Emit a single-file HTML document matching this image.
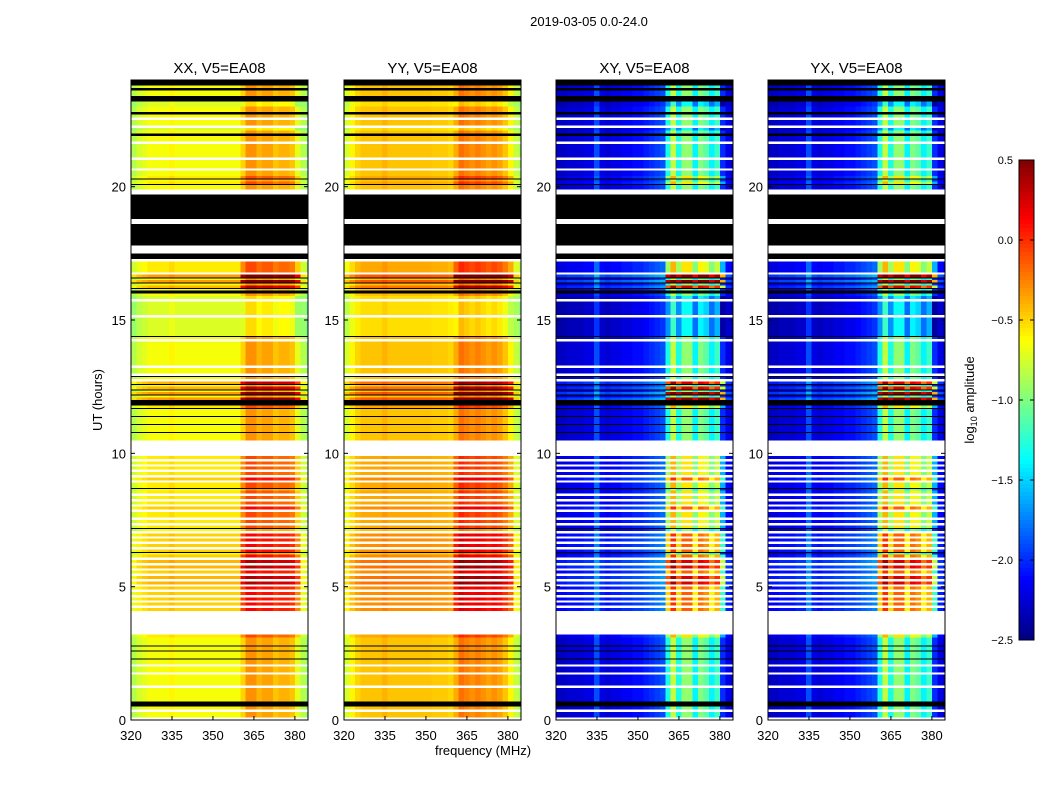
<!DOCTYPE html>
<html><head><meta charset="utf-8">
<style>
body{margin:0;background:#fff;}
svg{display:block;font-family:"Liberation Sans","DejaVu Sans",sans-serif;}
</style></head>
<body>
<svg id="fig" width="1050" height="800" viewBox="0 0 1050 800">
<rect width="1050" height="800" fill="#fff"/>
<text x="589" y="26" font-size="13" text-anchor="middle">2019-03-05 0.0-24.0</text>
<text x="483" y="755" font-size="13" text-anchor="middle">frequency (MHz)</text>
<text transform="translate(102,400) rotate(-90)" font-size="13" text-anchor="middle">UT (hours)</text>
<g id="panels"></g>
<g id="cbar"></g>
<text transform="translate(974,400) rotate(-90)" font-size="13" text-anchor="middle">log<tspan font-size="9" dy="3">10</tspan><tspan dy="-3"> amplitude</tspan></text>
</svg>
<script>
// ---- data ----
const panelTitles = ["XX, V5=EA08","YY, V5=EA08","XY, V5=EA08","YX, V5=EA08"];
const freqBins = [321,323,325,327,329,331,333,335,337,339,341,343,345,347,349,351,353,355,357,359,361,363,365,367,369,371,373,375,377,379,381,383,385];
const colXX = [-0.85,-0.75,-0.7,-0.65,-0.65,-0.65,-0.65,-0.6,-0.65,-0.65,-0.65,-0.65,-0.65,-0.65,-0.65,-0.65,-0.65,-0.65,-0.65,-0.65,-0.5,-0.3,-0.3,-0.4,-0.35,-0.35,-0.45,-0.4,-0.4,-0.45,-0.7,-0.85,-0.95];
const colYY = [-0.75,-0.6,-0.5,-0.45,-0.45,-0.45,-0.45,-0.4,-0.45,-0.45,-0.45,-0.45,-0.45,-0.45,-0.45,-0.45,-0.47,-0.47,-0.47,-0.5,-0.38,-0.2,-0.25,-0.3,-0.25,-0.3,-0.35,-0.3,-0.35,-0.45,-0.6,-0.8,-0.9];
const colXY = [-2.3,-2.3,-2.25,-2.25,-2.25,-2.2,-2.2,-1.9,-2.2,-2.25,-2.2,-2.2,-2.15,-2.15,-2.1,-2.1,-2.05,-2.0,-1.95,-1.9,-1.3,-0.8,-1.3,-0.95,-0.95,-1.4,-1.0,-1.1,-1.4,-1.2,-2.0,-2.2,-2.3];
const colYX = [-2.3,-2.3,-2.25,-2.25,-2.25,-2.2,-2.2,-1.9,-2.2,-2.25,-2.2,-2.2,-2.15,-2.15,-2.1,-2.1,-2.05,-2.0,-1.95,-1.9,-1.3,-0.8,-1.3,-0.95,-0.95,-1.4,-1.0,-1.1,-1.4,-1.2,-2.0,-2.2,-2.3];
// one char per 0.1 h, from 24 h down to 0 h: k=flagged(black), w=no data(white), l=data with thin flagged line, digit=row level
const rowLevels = ("kk"+"4k44"+"kk"+"3344"+"k"+"4w44w34"+"k"+"44w44444w444w44"+"5l5l4"+"ww"+"kkkkkkkkk"+"ww"+"kkkkkkkk"+"www"+"kk"+"w"+"5555"+"w"+"8l8l7l"+"k4"+"3w33333w3333333"+"lw"+"444444444w44"+"wlw"+"7l7l"+"8l8"+"kk5l44l"+"44l44l44"+"wwwwww"+"5w5w5w5w6w55l5w5w5w6w55w5w5l"+"w6w6w6w6l"+"6w7w7w6w7w7w6w6w6w6w6"+"wwwwwwwww"+"5444l4l44l4w44w4444w44444kk4w44w").split("");
const xTicks = [320,335,350,365,380];
const yTicks = [0,5,10,15,20];
const cbTicks = [0.5,0.0,-0.5,-1.0,-1.5,-2.0,-2.5];
// ---- layout ----
const panelCols = [colXX,colYY,colXY,colYX];
const rowBaseK = [0.08,0.08,0.08,0.08], rowBandK = [0.22,0.22,0.4,0.4];
const lefts=[131,344,556,768], W=177, TOP=80, H=640;
const fmin=320, fmax=384.8, tmin=0, tmax=24, vmin=-2.5, vmax=0.5;
const NS="http://www.w3.org/2000/svg";
function mk(t,a,p){const e=document.createElementNS(NS,t);for(const k in a)e.setAttribute(k,a[k]);p.appendChild(e);return e;}
function jet(v){let t=(v-vmin)/(vmax-vmin);t=Math.max(0,Math.min(1,t));
 const f=x=>Math.max(0,Math.min(1,x));
 const r=f(1.5-Math.abs(4*t-3)),g=f(1.5-Math.abs(4*t-2)),b=f(1.5-Math.abs(4*t-1));
 return `rgb(${Math.round(r*255)},${Math.round(g*255)},${Math.round(b*255)})`;}
const panels=document.getElementById('panels');
const rowH=(tmax-tmin)/rowLevels.length;
panelTitles.forEach((title,p)=>{
 const L=lefts[p];
 const xs=f=>L+(f-fmin)/(fmax-fmin)*W;
 const ys=t=>TOP+H-(t-tmin)/(tmax-tmin)*H;
 const g=mk('g',{},panels);
 
 
 const cid='clip'+p;
 const cp=mk('clipPath',{id:cid},g);mk('rect',{x:L,y:TOP,width:W,height:H},cp);
 const hm=mk('g',{'clip-path':`url(#${cid})`,'shape-rendering':'crispEdges'},g);
 
 
 const cols=panelCols[p];
 rowLevels.forEach((c,i)=>{
  const t1=tmax-i*rowH, t0=t1-rowH;
  const y=ys(t1), h=ys(t0)-ys(t1)+0.4;
  if(c==='w')return;
  if(c==='k'){const r=mk('rect',{x:L,y:y,width:W,height:h,fill:'#000'},hm);
   
   return;}
  const d=(c==='l'?4:+c)-4;
  freqBins.forEach((fc,j)=>{
   const inBand=fc>=361&&fc<=381;
   const v=cols[j]+d*(inBand?rowBandK[p]:rowBaseK[p]);
   const r=mk('rect',{x:xs(fc-1),y:y,width:xs(fc+1)-xs(fc-1)+0.4,height:h,fill:jet(v)},hm);
   
   
  });
  if(c==='l'){const r=mk('rect',{x:L,y:y,width:W,height:1,fill:'#000'},hm);
   
   }
 });
 mk('rect',{x:L,y:TOP,width:W,height:H,fill:'none',stroke:'#000','stroke-width':1},g);
 const tt=mk('text',{x:L+W/2,y:TOP-7,'font-size':15,'text-anchor':'middle'},g);tt.textContent=title;
 
 
 xTicks.forEach(f=>{const x=xs(f);
  mk('line',{x1:x,x2:x,y1:TOP+H,y2:TOP+H-4,stroke:'#000'},g);
  mk('line',{x1:x,x2:x,y1:TOP,y2:TOP+4,stroke:'#000'},g);
  const t=mk('text',{x:x,y:TOP+H+20,'font-size':13,'text-anchor':'middle'},g);t.textContent=f;
  
  });
 yTicks.forEach(v=>{const y=ys(v);
  mk('line',{x1:L,x2:L+4,y1:y,y2:y,stroke:'#000'},g);
  mk('line',{x1:L+W,x2:L+W-4,y1:y,y2:y,stroke:'#000'},g);
  const t=mk('text',{x:L-5,y:y+5,'font-size':13,'text-anchor':'end'},g);t.textContent=v;
  
  });
});
// colorbar
const cb=document.getElementById('cbar');
const cx=1019,cw=15,ct=160,ch=480;
const cys=v=>ct+(vmax-v)/(vmax-vmin)*ch;
const N=120;
for(let i=0;i<N;i++){const v=vmax-(i+0.5)*(vmax-vmin)/N;
 const r=mk('rect',{x:cx,y:ct+i*ch/N,width:cw,height:ch/N+0.5,fill:jet(v),'shape-rendering':'crispEdges'},cb);
 
 }
mk('rect',{x:cx,y:ct,width:cw,height:ch,fill:'none',stroke:'#000'},cb);
cbTicks.forEach(v=>{const y=cys(v);
 mk('line',{x1:cx,x2:cx+4,y1:y,y2:y,stroke:'#000'},cb);
 mk('line',{x1:cx+cw,x2:cx+cw-4,y1:y,y2:y,stroke:'#000'},cb);
 const t=mk('text',{x:cx-6,y:y+4,'font-size':11,'text-anchor':'end'},cb);t.textContent=(v<0?'\u2212':'')+Math.abs(v).toFixed(1);
 
 });
</script>
</body></html>
